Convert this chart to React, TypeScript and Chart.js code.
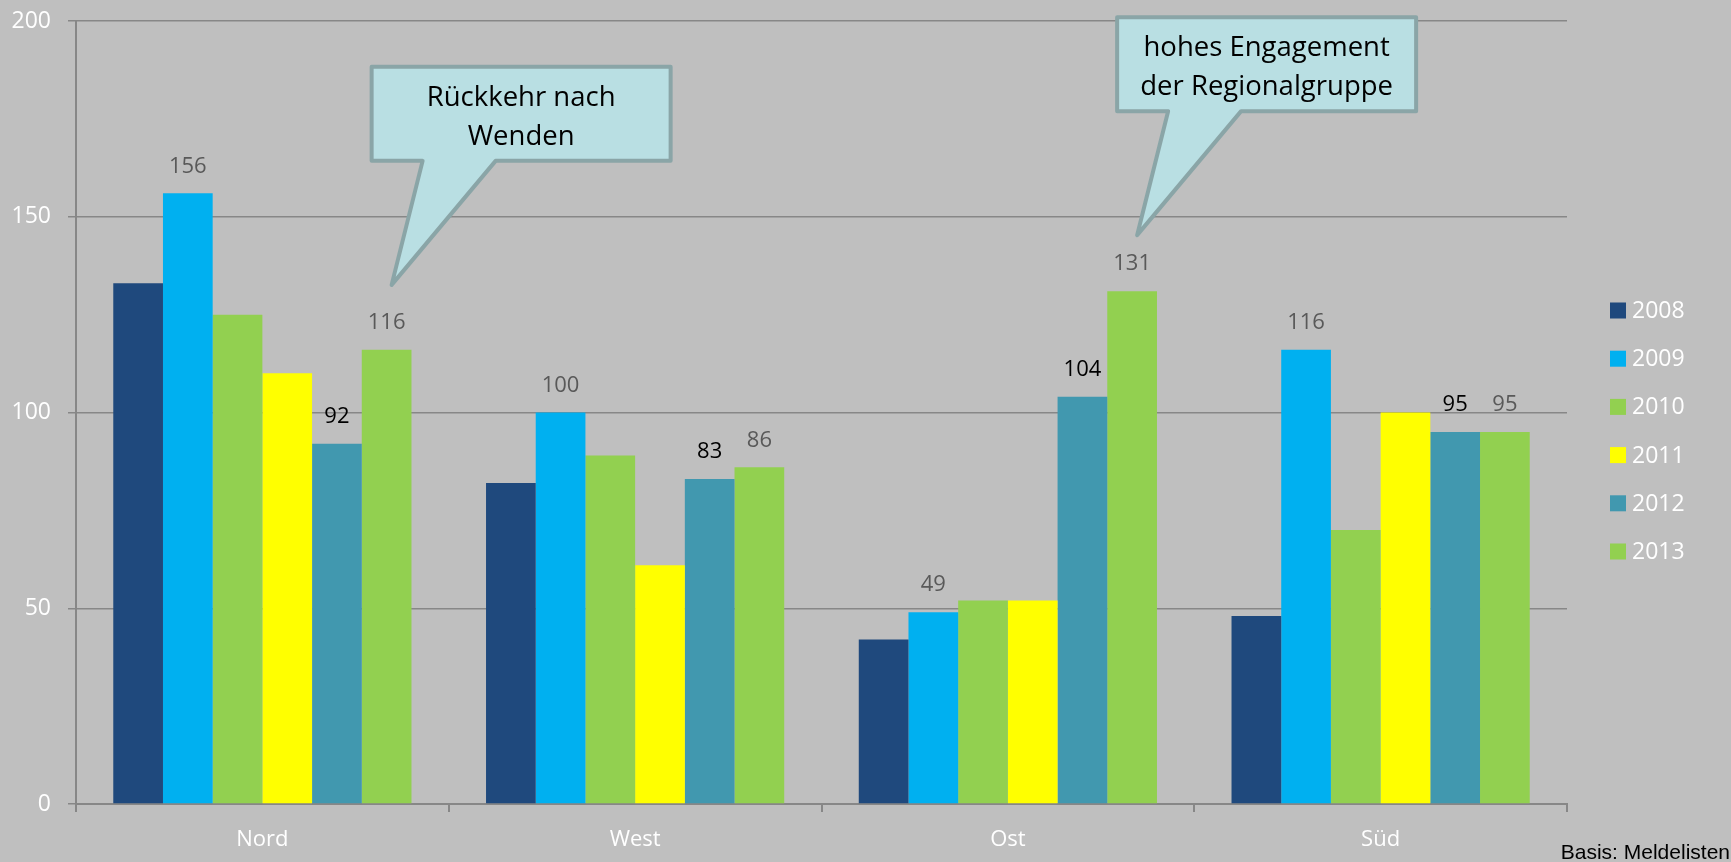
import React, { useEffect, useRef } from "react";
import { Chart, registerables } from "chart.js";

Chart.register(...registerables);

const categories = ["Nord", "West", "Ost", "Süd"];
const years = ["2008", "2009", "2010", "2011", "2012", "2013"];
const v2008 = [133, 82, 42, 48];
const v2009 = [156, 100, 49, 116];
const v2010 = [125, 89, 52, 70];
const v2011 = [110, 61, 52, 100];
const v2012 = [92, 83, 104, 95];
const v2013 = [116, 86, 131, 95];
const seriesValues = [v2008, v2009, v2010, v2011, v2012, v2013];
const seriesColors = ["#1f497d", "#00b0f0", "#92d050", "#ffff00", "#4198af", "#92d050"];
// which series carry a value label, and its colour
const labelColors: (string | null)[] = [null, "#595959", null, null, "#000000", "#595959"];
const yTicks = [0, 50, 100, 150, 200];

const callouts = [
  { lines: ["Rückkehr nach", "Wenden"], category: 0, series: 5, tipValue: 132.6, dx: 5 },
  { lines: ["hohes Engagement", "der Regionalgruppe"], category: 2, series: 5, tipValue: 145.3, dx: 5 },
];
const sourceNote = "Basis: Meldelisten";

const FONT = "'Open Sans', sans-serif";

const bgPlugin = {
  id: "bg",
  beforeDraw(chart: any) {
    const ctx = chart.ctx;
    ctx.save();
    ctx.fillStyle = "#bfbfbf";
    ctx.fillRect(0, 0, chart.width, chart.height);
    ctx.restore();
  },
};

const valueLabelPlugin = {
  id: "valueLabels",
  afterDatasetsDraw(chart: any) {
    const ctx = chart.ctx;
    ctx.save();
    ctx.font = `22px ${FONT}`;
    ctx.textAlign = "center";
    ctx.textBaseline = "middle";
    chart.data.datasets.forEach((ds: any, di: number) => {
      const col = labelColors[di];
      if (!col) return;
      const meta = chart.getDatasetMeta(di);
      meta.data.forEach((bar: any, i: number) => {
        ctx.fillStyle = col;
        ctx.fillText(String(ds.data[i]), bar.x, bar.y - 27);
      });
    });
    ctx.restore();
  },
};

const legendPlugin = {
  id: "customLegend",
  afterDraw(chart: any) {
    const ctx = chart.ctx;
    ctx.save();
    ctx.font = `23px ${FONT}`;
    ctx.textBaseline = "middle";
    ctx.textAlign = "left";
    const step = 48.2;
    const cy0 = chart.height / 2 - step * 2.5;
    chart.data.datasets.forEach((ds: any, i: number) => {
      const cy = cy0 + i * step;
      ctx.fillStyle = ds.backgroundColor;
      ctx.fillRect(1610, cy - 8, 16, 16);
      ctx.fillStyle = "#ffffff";
      ctx.fillText(ds.label, 1632, cy + 1);
    });
    ctx.restore();
  },
};

const calloutPlugin = {
  id: "callouts",
  afterDraw(chart: any) {
    const ctx = chart.ctx;
    const y = chart.scales.y;
    callouts.forEach((c) => {
      const bar = chart.getDatasetMeta(c.series).data[c.category];
      const tx = bar.x + c.dx;
      const ty = y.getPixelForValue(c.tipValue);
      const left = tx - 20;
      const right = tx + 279;
      const top = ty - 218;
      const bottom = ty - 124;
      ctx.save();
      ctx.beginPath();
      ctx.moveTo(left, top);
      ctx.lineTo(right, top);
      ctx.lineTo(right, bottom);
      ctx.lineTo(tx + 104, bottom);
      ctx.lineTo(tx, ty);
      ctx.lineTo(tx + 31, bottom);
      ctx.lineTo(left, bottom);
      ctx.closePath();
      ctx.fillStyle = "#b9dfe3";
      ctx.fill();
      ctx.lineWidth = 4;
      ctx.lineJoin = "round";
      ctx.strokeStyle = "#8aa5a7";
      ctx.stroke();
      ctx.fillStyle = "#000000";
      ctx.font = `27.5px ${FONT}`;
      ctx.textAlign = "center";
      ctx.textBaseline = "middle";
      const cx = (left + right) / 2;
      c.lines.forEach((ln, i) => ctx.fillText(ln, cx, top + 31.5 + i * 39));
      ctx.restore();
    });
    ctx.save();
    ctx.font = "21px 'Liberation Sans', Arial, sans-serif";
    ctx.fillStyle = "#000000";
    ctx.textAlign = "right";
    ctx.textBaseline = "alphabetic";
    ctx.fillText(sourceNote, chart.width - 1, chart.height - 3);
    ctx.restore();
  },
};

export default function App() {
  const ref = useRef<HTMLCanvasElement | null>(null);
  useEffect(() => {
    document.body.style.margin = "0";
    document.body.style.background = "#bfbfbf";
    const chart = new Chart(ref.current as HTMLCanvasElement, {
      type: "bar",
      data: {
        labels: categories,
        datasets: years.map((yr, i) => ({
          label: yr,
          data: seriesValues[i],
          backgroundColor: seriesColors[i],
          borderWidth: 0,
          categoryPercentage: 0.8,
          barPercentage: 1.0,
        })),
      },
      options: {
        animation: false,
        responsive: false,
        maintainAspectRatio: false,
        devicePixelRatio: 1,
        layout: { padding: { top: 21, right: 164, left: 0, bottom: 0 } },
        plugins: { legend: { display: false }, tooltip: { enabled: false } },
        scales: {
          x: {
            afterFit: (s: any) => { s.height = 58; s.paddingLeft = 0; s.paddingRight = 0; },
            grid: {
              display: true,
              drawOnChartArea: false,
              drawTicks: true,
              tickLength: 8,
              color: "#878787",
              lineWidth: 2,
              offset: true,
            },
            border: { display: true, color: "#878787", width: 2 },
            ticks: { color: "#ffffff", font: { family: FONT, size: 22 }, padding: 15 },
          },
          y: {
            min: 0,
            max: 200,
            afterFit: (s: any) => { s.width = 76; s.paddingTop = 0; s.paddingBottom = 0; },
            afterBuildTicks: (s: any) => { s.ticks = yTicks.map((v) => ({ value: v })); },
            grid: { color: "#878787", lineWidth: 1.5, tickLength: 8, drawTicks: true },
            border: { display: true, color: "#878787", width: 2 },
            ticks: { color: "#ffffff", font: { family: FONT, size: 23 }, padding: 17 },
          },
        },
      },
      plugins: [bgPlugin, valueLabelPlugin, legendPlugin, calloutPlugin],
    } as any);
    return () => chart.destroy();
  }, []);
  return (
    <div style={{ width: 1731, height: 862, background: "#bfbfbf" }}>
      <canvas ref={ref} width={1731} height={862} style={{ display: "block" }} />
    </div>
  );
}
